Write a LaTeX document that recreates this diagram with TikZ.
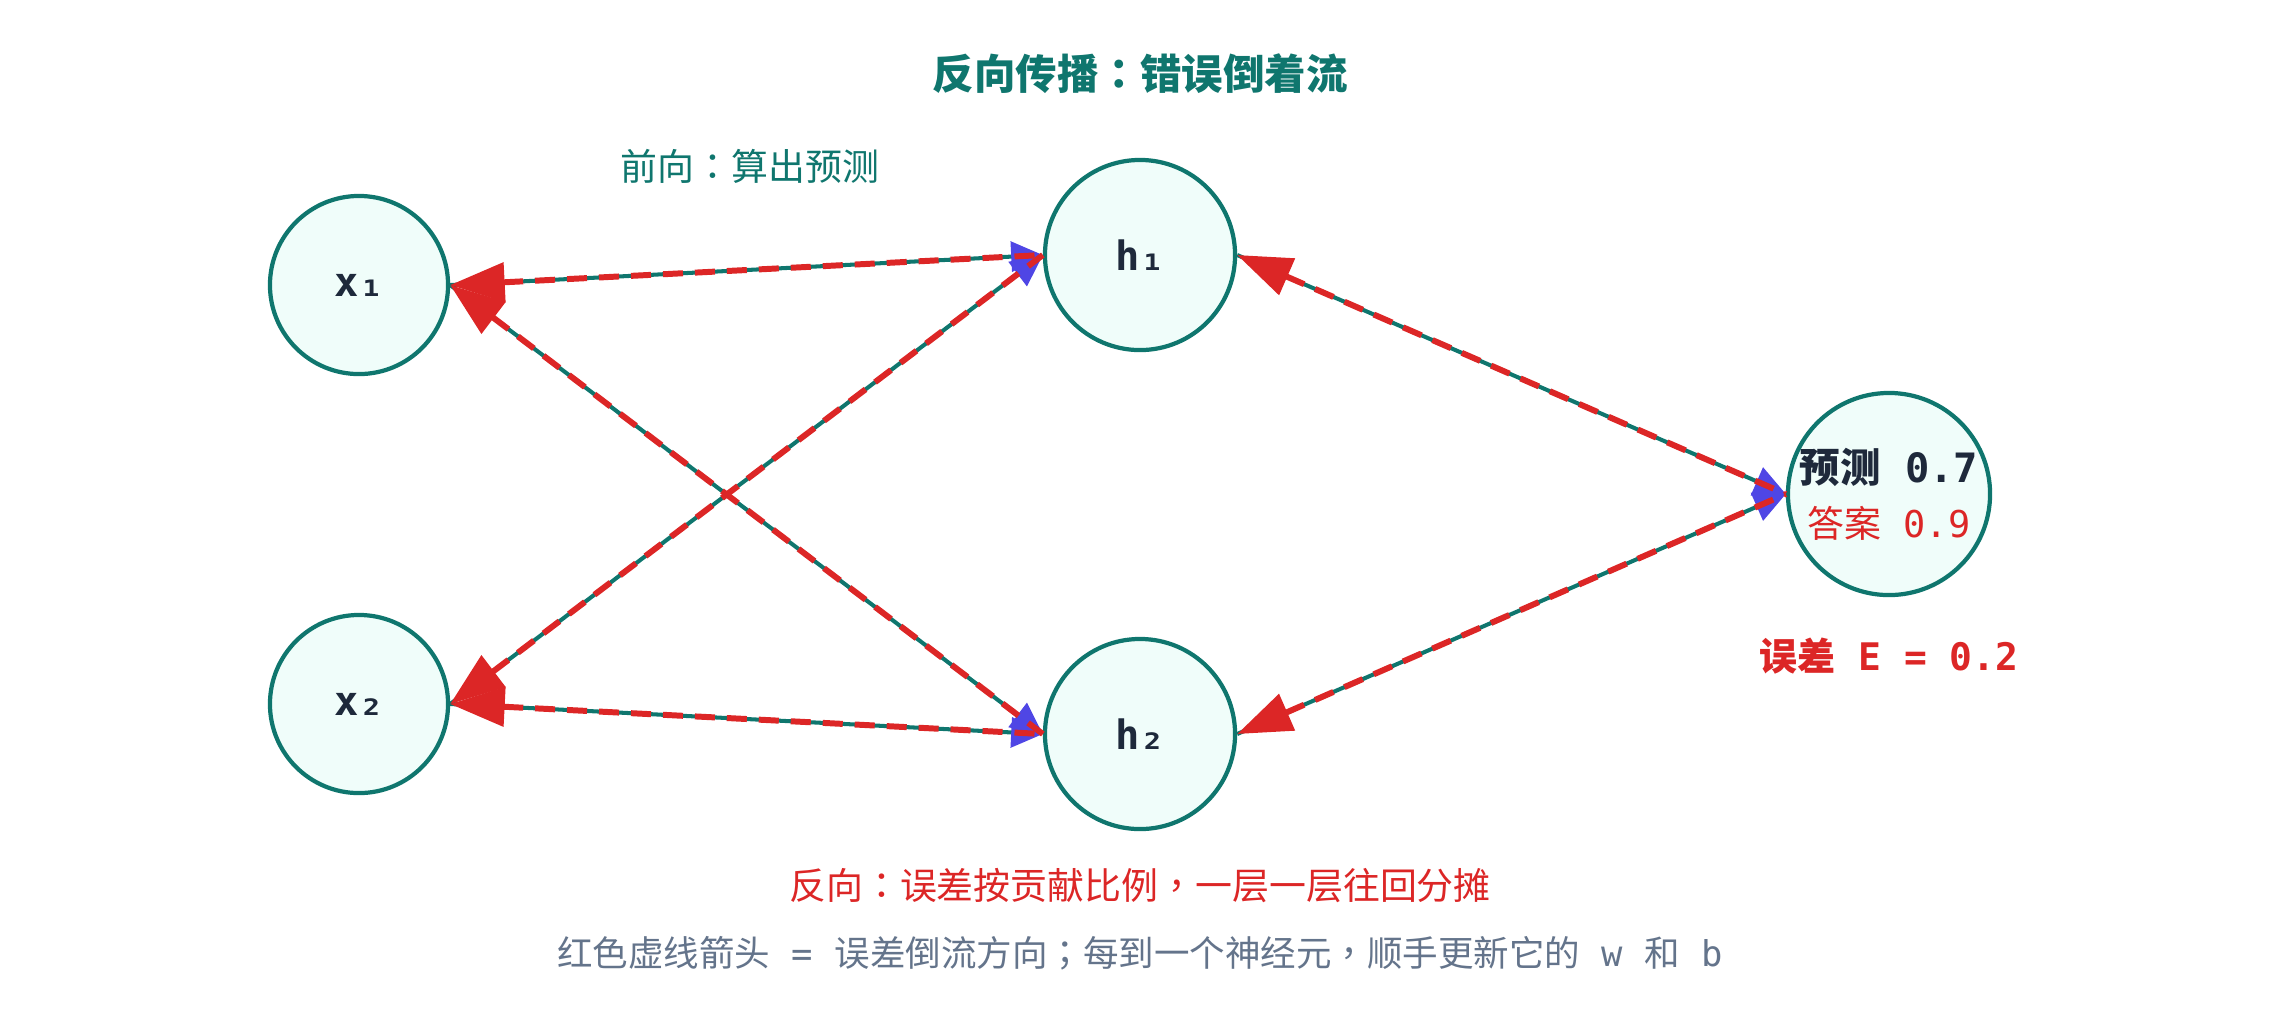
\documentclass[tikz,border=0pt]{standalone}
\usepackage{fontspec}
\setmainfont{Noto Sans CJK SC}
\newfontfamily\monofnt{DejaVu Sans Mono}
\newfontfamily\tcfnt{Noto Sans CJK TC}
\usepackage{tikz}
\usetikzlibrary{arrows.meta}

\definecolor{nnteal}{HTML}{0F766E}
\definecolor{nnfill}{HTML}{F0FDFA}
\definecolor{nnred}{HTML}{DC2626}
\definecolor{nnblue}{HTML}{4F46E5}
\definecolor{nngray}{HTML}{64748B}
\definecolor{nnink}{HTML}{1E293B}

\begin{document}
\begin{tikzpicture}[x=0.01cm,y=-0.01cm,
		neuron/.style={circle,draw=nnteal,fill=nnfill,line width=1.2pt,inner sep=0pt,
			text=nnink,font=\monofnt\bfseries\fontsize{11.5}{13}\selectfont},
		fwd/.style={nnteal,line width=1.15pt,-{Triangle[length=9pt,width=8.5pt,color=nnblue]}},
		bwd/.style={nnred,line width=1.7pt,dash pattern=on 5.7pt off 3.4pt,
			{Triangle[length=15.5pt,width=11pt]}-},
		note/.style={font=\fontsize{10.5}{13}\selectfont}]
		\useasboundingbox (0,0) rectangle (2280,1020);

		\node[neuron,minimum size=1.78cm] (x1) at (359,285) {x₁};
		\node[neuron,minimum size=1.78cm] (x2) at (359,704) {x₂};
		\node[neuron,minimum size=1.9cm] (h1) at (1140,255) {h₁};
		\node[neuron,minimum size=1.9cm] (h2) at (1140,734) {h₂};
		\node[neuron,minimum size=2.02cm] (out) at (1889,494) {};
		\node[font=\bfseries\fontsize{11.5}{13}\selectfont,text=nnink] (pred) at (1889,467) {预测{\monofnt\ 0.7}};
		\node[note,text=nnred] (ans) at (1889,523) {答案{\monofnt\ 0.9}};
		\node[font=\bfseries\fontsize{10.8}{13}\selectfont,text=nnred] (err) at (1889,656) {误差{\monofnt\ E = 0.2}};

		\path
		(x1.east) edge[fwd] (h1.west)
		(x1.east) edge[fwd] (h2.west)
		(x2.east) edge[fwd] (h1.west)
		(x2.east) edge[fwd] (h2.west)
		(h1.east) edge[fwd] (out.west)
		(h2.east) edge[fwd] (out.west);
		\path
		(x1.east) edge[bwd] (h1.west)
		(x1.east) edge[bwd] (h2.west)
		(x2.east) edge[bwd] (h1.west)
		(x2.east) edge[bwd] (h2.west)
		(h1.east) edge[bwd] (out.west)
		(h2.east) edge[bwd] (out.west);

		\node[font=\bfseries\fontsize{11.8}{14}\selectfont,text=nnteal] (title) at (1140,74) {反向传播{\tcfnt ：}错误倒着流};
		\node[note,text=nnteal] (fwdnote) at (750,166) {前向{\tcfnt ：}算出预测};
		\node[note,text=nnred] (bwdnote) at (1140,886) {反向{\tcfnt ：}误差按贡献比例{\tcfnt ，}一层一层往回分摊};
		\node[note,font=\fontsize{10.1}{13}\selectfont,text=nngray] (legend) at (1140,953) {红色虚线箭头{\monofnt\ = }误差倒流方向{\tcfnt ；}每到一个神经元{\tcfnt ，}顺手更新它的{\monofnt\ w\ }和{\monofnt\ b}};
	\end{tikzpicture}
\end{document}
